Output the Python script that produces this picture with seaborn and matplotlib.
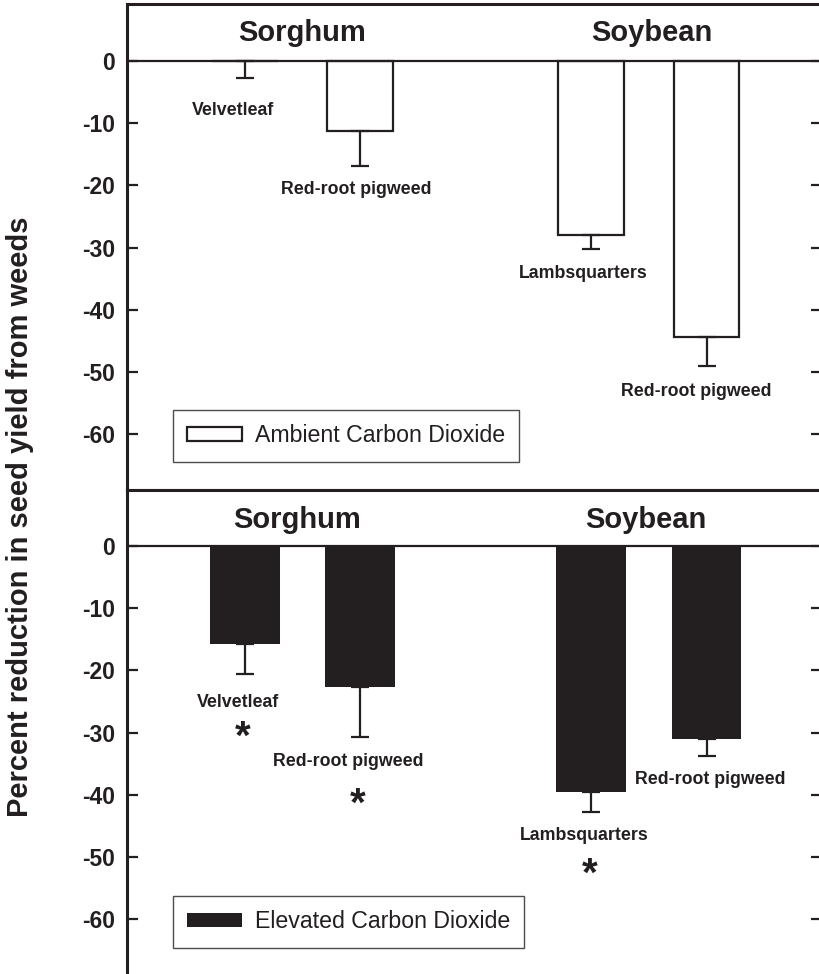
import numpy as np
import pandas as pd
import matplotlib
matplotlib.use("Agg")
import matplotlib.pyplot as plt
import seaborn as sns

# ---------------- data ----------------
crops = ["Sorghum", "Sorghum", "Soybean", "Soybean"]
weeds = ["Velvetleaf", "Red-root pigweed", "Lambsquarters", "Red-root pigweed"]
ambient_values = [0.0, -11.3, -28.0, -44.4]
ambient_err = [2.7, 5.6, 2.2, 4.6]
elevated_values = [-15.8, -22.7, -39.5, -31.0]
elevated_err = [4.8, 8.0, 3.3, 2.8]
elevated_signif = [True, True, True, False]
yticks = [0, -10, -20, -30, -40, -50, -60]
legend_labels = ["Ambient Carbon Dioxide", "Elevated Carbon Dioxide"]

# ---------------- layout ----------------
keys = [f"{c}|{w}|{i}" for i, (c, w) in enumerate(zip(crops, weeds))]
order = [keys[0], keys[1], "gap", keys[2], keys[3]]
ink = "#231f20"

sns.set_style("white")
plt.rcParams["font.family"] = ["Liberation Sans", "DejaVu Sans"]
plt.rcParams["text.color"] = ink

fig = plt.figure(figsize=(8.19, 9.74), dpi=100)
W, H = 819.0, 974.0
ax_left, ax_right = 127 / W, 822 / W
ax_top = fig.add_axes([ax_left, (H - 490) / H, ax_right - ax_left, 486 / H])
ax_bot = fig.add_axes([ax_left, (H - 976) / H, ax_right - ax_left, 486 / H])

label_dx = {
    "top": [-0.10, -0.03, -0.07, -0.09],
    "bot": [-0.06, -0.10, -0.06, 0.03],
}
label_y = {
    "top": [-7.9, -20.7, -34.1, -53.2],
    "bot": [-25.2, -34.6, -46.6, -37.5],
}
star_dx = [-0.02, -0.02, -0.01, 0.0]
star_y = [-32.6, -43.3, -54.6, 0.0]
header_x = {"top": [0.5, 3.53], "bot": [0.45, 3.47]}
header_y = {"top": 4.5, "bot": 4.2}
ylims = {"top": (-69.0, 9.2), "bot": (-69.1, 9.0)}


def draw_panel(ax, name, values, errs, fill, width, legend_label):
    df = pd.DataFrame({"key": keys, "value": values})
    sns.barplot(data=df, x="key", y="value", order=order, color=fill,
                saturation=1, edgecolor=ink, linewidth=1.6 if fill == "white" else 0,
                width=width, errorbar=None, ax=ax, zorder=2)
    bars = sorted(ax.patches, key=lambda p: p.get_x())
    xs = [b.get_x() + b.get_width() / 2 for b in bars]
    ax.errorbar(xs, values, yerr=[errs, [0] * len(errs)], fmt="none",
                ecolor=ink, elinewidth=1.6, capsize=6.2, capthick=1.6, zorder=3)
    ax.axhline(0, color=ink, lw=1.6, zorder=4)
    ax.set_xlim(-1.02, 5.0)
    ax.set_ylim(*ylims[name])
    ax.set_yticks(yticks)
    ax.set_yticklabels([str(t) for t in yticks], fontsize=16.5, fontweight="bold", color=ink)
    ax.tick_params(axis="y", which="both", direction="in", length=8, width=1.6,
                   color=ink, left=True, right=True, pad=8.5)
    ax.set_xticks([])
    ax.set_xlabel("")
    ax.set_ylabel("")
    for s in ["left", "top", "bottom"]:
        ax.spines[s].set_visible(True)
        ax.spines[s].set_color(ink)
        ax.spines[s].set_linewidth(2.2)
    ax.spines["right"].set_visible(False)
    # weed labels
    for i, w in enumerate(weeds):
        ax.text(xs[i] + label_dx[name][i], label_y[name][i], w, ha="center", va="center",
                fontsize=12.8, fontweight="bold", color=ink)
    # crop headers
    for hx, crop in zip(header_x[name], ["Sorghum", "Soybean"]):
        ax.text(hx, header_y[name], crop, ha="center", va="center",
                fontsize=21, fontweight="bold", color=ink)
    # legend
    leg = ax.legend([bars[1]], [legend_label], loc="lower left",
                    bbox_to_anchor=(0.066, 0.058), borderaxespad=0,
                    fontsize=16.7, frameon=True, fancybox=False,
                    handlelength=2.35, handleheight=0.55, handletextpad=0.55,
                    borderpad=0.62)
    leg.get_frame().set_edgecolor(ink)
    leg.get_frame().set_linewidth(1.0)
    for t in leg.get_texts():
        t.set_color(ink)
    return xs


draw_panel(ax_top, "top", ambient_values, ambient_err, "white", 0.57, legend_labels[0])
xs_b = draw_panel(ax_bot, "bot", elevated_values, elevated_err, ink, 0.605, legend_labels[1])

for i, sig in enumerate(elevated_signif):
    if sig:
        ax_bot.text(xs_b[i] + star_dx[i], star_y[i], "*", ha="center", va="baseline",
                    fontsize=29, fontweight="bold", color=ink)

fig.text(20 / W, (H - 517) / H, "Percent reduction in seed yield from weeds",
         rotation=90, ha="center", va="center", fontsize=21, fontweight="bold", color=ink)

fig.savefig("out.png", dpi=100)
